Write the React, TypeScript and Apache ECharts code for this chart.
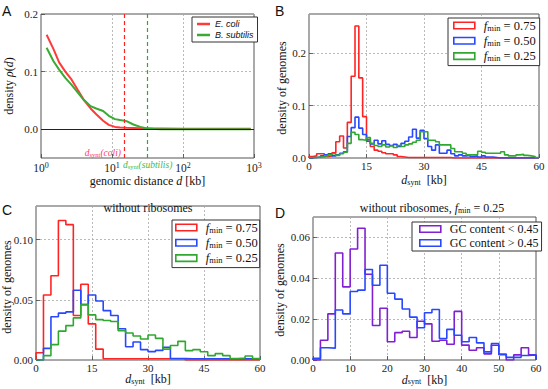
import React, { useEffect, useRef } from 'react';
import * as echarts from 'echarts';

const SERIF = "'Liberation Serif', 'DejaVu Serif', serif";
const SANS = "'Liberation Sans', 'DejaVu Sans', sans-serif";

const RED = '#ff2424';
const BLUE = '#2848ff';
const GREEN = '#30a830';
const PURPLE = '#8020d0';
const A_RED = '#ff3a3a';
const A_GREEN = '#3aaa32';

// ---------- Panel A: density rho(d) vs genomic distance d [kb] (log x)
const distA = [1.2, 1.5, 1.8, 2.2, 2.7, 3.3, 4, 5, 6, 7.5, 9, 11, 13, 16, 20, 25, 30, 40, 50, 100, 200, 500, 900];
const ecoliA = [0.164, 0.139, 0.116, 0.1, 0.086, 0.068, 0.051, 0.036, 0.026, 0.0146, 0.0075, 0.004, 0.003, 0.0025, 0.002, 0.0015, 0.001, 0.001, 0.001, 0.0008, 0.0008, 0.0008, 0.0008];
const bsubA = [0.1415, 0.118, 0.1035, 0.089, 0.077, 0.0637, 0.051, 0.04, 0.036, 0.0316, 0.0233, 0.0175, 0.0158, 0.014, 0.0082, 0.004, 0.0018, 0.0005, 0, 0, 0, 0, 0];
const dsyntColi = 14.7;
const dsyntSubtilis = 31.6;
const yTicksA = [0, 0.1, 0.2];

// ---------- Panel B: histograms, 1 kb bins from 0
const binB = 1;
const redB = [0.003, 0.004, 0.008, 0.008, 0.003, 0.004, 0.01, 0.031, 0.042, 0.019, 0.068, 0.156, 0.252, 0.153, 0.079, 0.035, 0.022, 0.015, 0.013, 0.01, 0.008, 0.008, 0.006, 0.003, 0.002,
  0.001, 0.001, 0.001, 0.001, 0.001, 0.001, 0.001, 0.001, 0.001, 0.001, 0.001, 0.001,
  0, 0, 0, 0, 0, 0, 0, 0, 0, 0, 0, 0, 0, 0, 0, 0, 0, 0, 0, 0, 0, 0, 0];
const blueB = [0, 0.001, 0.002, 0.004, 0.006, 0.008, 0.004, 0.006, 0.009, 0.012, 0.041, 0.058, 0.078, 0.057, 0.045, 0.032, 0.027, 0.034, 0.027, 0.033, 0.026, 0.024, 0.026, 0.022, 0.028, 0.032, 0.04, 0.055, 0.038, 0.053,
  0.037, 0.022, 0.015, 0.025, 0.009, 0.009, 0.015, 0.008, 0.004, 0.006, 0.004, 0.005, 0.003, 0.004, 0.002, 0.004, 0.002, 0.002, 0.001, 0, 0, 0, 0, 0, 0, 0, 0, 0, 0, 0];
const greenB = [0.001, 0.001, 0.002, 0.002, 0.004, 0.006, 0.008, 0.005, 0.008, 0.011, 0.028, 0.049, 0.045, 0.035, 0.034, 0.039, 0.028, 0.024, 0.022, 0.025, 0.021, 0.023, 0.02, 0.024, 0.022, 0.025, 0.027, 0.03, 0.034, 0.05,
  0.05, 0.034, 0.034, 0.031, 0.025, 0.025, 0.025, 0.018, 0.012, 0.012, 0.009, 0.006, 0.006, 0.006, 0.013, 0.011, 0.009, 0.009, 0.009, 0.009, 0.012, 0.006, 0.004, 0.004, 0.006, 0.007, 0.005, 0.004, 0.003, 0.001];

// ---------- Panel C: without ribosomes, 2 kb bins
const binC = 2;
const redC = [0.006, 0.054, 0.07, 0.116, 0.1125, 0.037, 0.063, 0.03, 0.009, 0.001, 0.001, 0.001, 0.001, 0.001, 0.001, 0.001, 0.001, 0.001, 0.001, 0.001, 0, 0, 0, 0, 0, 0, 0, 0, 0, 0];
const blueC = [0, 0.0097, 0.036, 0.039, 0.04, 0.058, 0.046, 0.054, 0.049, 0.041, 0.037, 0.026, 0.011, 0.015, 0.0086, 0.007, 0.008, 0.0106, 0.0013, 0.0013, 0.001, 0.001, 0.001, 0.001, 0.001, 0.001, 0.001, 0.001, 0.001, 0.001];
const greenC = [0, 0.0036, 0.0128, 0.024, 0.0286, 0.035, 0.046, 0.0375, 0.0336, 0.0328, 0.032, 0.0244, 0.0225, 0.02, 0.0175, 0.0208, 0.018, 0.009, 0.012, 0.0155, 0.0078, 0.0086, 0.0068, 0.0036, 0.0053, 0.0036, 0.0013, 0.0016, 0.0033, 0.0013];

// ---------- Panel D: without ribosomes, f_min = 0.25, 2 kb bins
const binD = 2;
const purpleD = [0, 0.0097, 0.0226, 0.0524, 0.0358, 0.0543, 0.0645, 0.042, 0.0169, 0.0253, 0.0089, 0.0134, 0.0141, 0.011, 0.019, 0.0177, 0.0092, 0.0097, 0.0077, 0.0238, 0.0073, 0.0048, 0.006, 0.003, 0.0072, 0.0026, 0, 0.0025, 0.006, 0.0025];
const blueD = [0.0008, 0.006, 0.0058, 0.0245, 0.0226, 0.0335, 0.0342, 0.0443, 0.0366, 0.0464, 0.0327, 0.0298, 0.025, 0.021, 0.0158, 0.0231, 0.0247, 0.0105, 0.015, 0.0121, 0.0089, 0.011, 0.0084, 0.004, 0.0081, 0.0029, 0.0013, 0.0013, 0.0022, 0.0025];

const fNames = ['f_min = 0.75', 'f_min = 0.50', 'f_min = 0.25'];
const gcNames = ['GC content < 0.45', 'GC content > 0.45'];
const speciesNames = ['E. coli', 'B. subtilis'];

function steps(vals: number[], w: number): number[][] {
  const pts: number[][] = [[0, 0]];
  vals.forEach((v, i) => pts.push([i * w, v]));
  pts.push([vals.length * w, vals[vals.length - 1]]);
  pts.push([vals.length * w, 0]);
  return pts;
}

function hist(name: string, vals: number[], w: number, color: string, idx: number) {
  return {
    type: 'line', name, xAxisIndex: idx, yAxisIndex: idx, data: steps(vals, w), step: 'end',
    symbol: 'none', lineStyle: { color, width: 1.6 }, itemStyle: { color }, z: 3,
  };
}

const gridLine = { show: true, lineStyle: { color: '#a8a8a8', type: [2, 2], width: 0.8 } };
const tickStyle = { show: true, inside: true, length: 4, lineStyle: { color: '#444', width: 0.8 } };
const labelBase = { fontFamily: SERIF, fontSize: 11, color: '#222' };

function valX(idx: number, interval: number) {
  return {
    type: 'value', gridIndex: idx, min: 0, max: 60, interval,
    axisLine: { show: false, onZero: false }, axisTick: tickStyle, splitLine: gridLine,
    axisLabel: { ...labelBase, margin: 2 },
  };
}
function valY(idx: number, min: number, max: number, ticks: number[], digits: number) {
  return {
    type: 'value', gridIndex: idx, min, max,
    axisLine: { show: false, onZero: false },
    axisTick: { ...tickStyle, customValues: ticks },
    splitLine: gridLine,
    axisLabel: { ...labelBase, margin: 3, customValues: ticks, formatter: (v: number) => v.toFixed(digits) },
  };
}

const LFS = 12.5;
const legRich = {
  i: { fontFamily: SERIF, fontStyle: 'italic', fontSize: LFS, lineHeight: 13, color: '#111', padding: [0, 0, 0, 4] },
  s: { fontFamily: SERIF, fontSize: 8.5, lineHeight: 8, verticalAlign: 'bottom', color: '#111' },
  n: { fontFamily: SERIF, fontSize: LFS, lineHeight: 13, color: '#111' },
};
function fLegend(left: number, top: number, padding: number[]) {
  return {
    left, top, orient: 'vertical', padding, itemGap: 2.3, itemWidth: 21, itemHeight: 6.5,
    borderColor: '#333', borderWidth: 1, backgroundColor: '#fff',
    data: fNames.map((n, k) => ({ name: n, icon: 'rect', itemStyle: { color: 'rgba(255,255,255,0)', borderColor: [RED, BLUE, GREEN][k], borderWidth: 1.6 } })),
    formatter: (name: string) => `{i|f}{s|min}{n| = ${name.split('= ')[1]}}`,
    textStyle: { fontFamily: SERIF, fontSize: LFS, color: '#111', rich: legRich },
  };
}

function gText(x: number, y: number, text: string, rich: any, extra: any = {}) {
  return {
    type: 'text', x, y, ...extra,
    style: { text, rich, align: 'center', verticalAlign: 'middle', textAlign: 'center', textVerticalAlign: 'middle', ...(extra.style || {}) },
  };
}

const nameRich = {
  n: { fontFamily: SERIF, fontSize: 12, lineHeight: 12, fill: '#111' },
  i: { fontFamily: SERIF, fontStyle: 'italic', fontSize: 12, lineHeight: 12, fill: '#111' },
  s: { fontFamily: SERIF, fontSize: 8, lineHeight: 8, verticalAlign: 'bottom', fill: '#111' },
};
const dsyntName = '{i|d}{s|synt}{n|  [kb]}';
const densName = '{n|density of genomes}';

export default function App() {
  const ref = useRef<HTMLDivElement>(null);
  useEffect(() => {
    if (!ref.current) return;
    const chart = echarts.init(ref.current, undefined, { renderer: 'svg' });
    const gridStyle = { show: true, borderColor: '#555', borderWidth: 1, backgroundColor: 'transparent' };
    const annRed = '#ff3b6b';
    const annGreen = '#44bb44';
    const option: any = {
      animation: false,
      grid: [
        { left: 41, top: 14, width: 213, height: 144, ...gridStyle },
        { left: 309, top: 14, width: 230, height: 144, ...gridStyle },
        { left: 36, top: 206, width: 224, height: 154, ...gridStyle },
        { left: 313, top: 217, width: 223, height: 143, ...gridStyle },
      ],
      xAxis: [
        {
          type: 'log', logBase: 10, gridIndex: 0, min: 1, max: 1000,
          axisLine: { show: false, onZero: false }, axisTick: tickStyle, splitLine: gridLine,
          axisLabel: {
            margin: 3,
            formatter: (v: number) => `{b|10}{s|${Math.round(Math.log10(v))}}`,
            rich: {
              b: { fontFamily: SERIF, fontSize: 11.5, lineHeight: 11, color: '#222', padding: [3, 0, 0, 0] },
              s: { fontFamily: SERIF, fontSize: 8, lineHeight: 8, verticalAlign: 'top', color: '#222' },
            },
          },
        },
        valX(1, 15), valX(2, 15), valX(3, 10),
      ],
      yAxis: [
        valY(0, -0.05, 0.2, yTicksA, 1),
        valY(1, 0, 0.275, [0, 0.1, 0.2], 1),
        valY(2, 0, 0.128, [0, 0.05, 0.1], 2),
        valY(3, 0, 0.07, [0, 0.02, 0.04, 0.06], 2),
      ],
      legend: [
        {
          left: 192, top: 17, orient: 'vertical', padding: [2, 4, 2, 5], itemGap: 1, itemWidth: 13, itemHeight: 2.5,
          borderColor: '#333', borderWidth: 1, backgroundColor: '#fff',
          data: speciesNames.map((n) => ({ name: n, icon: 'rect' })),
          textStyle: { fontFamily: SANS, fontStyle: 'italic', fontSize: 9, color: '#111', lineHeight: 10 },
        },
        fLegend(448, 18, [1, 4, 3, 5]),
        fLegend(172, 220, [1, 2, 3, 3]),
        {
          left: 412, top: 222, orient: 'vertical', padding: [1, 3, 2, 7], itemGap: 2, itemWidth: 21, itemHeight: 6.5,
          borderColor: '#333', borderWidth: 1, backgroundColor: '#fff',
          data: gcNames.map((n, k) => ({ name: n, icon: 'rect', itemStyle: { color: 'rgba(255,255,255,0)', borderColor: [PURPLE, BLUE][k], borderWidth: 1.6 } })),
          formatter: (name: string) => `{n|${name}}`,
          textStyle: { fontFamily: SERIF, fontSize: 12, color: '#111', rich: { n: { fontFamily: SERIF, fontSize: 12, lineHeight: 13, color: '#111', padding: [0, 0, 0, 4] } } },
        },
      ],
      series: [
        {
          type: 'line', name: speciesNames[0], xAxisIndex: 0, yAxisIndex: 0, symbol: 'none',
          data: distA.map((d, i) => [d, ecoliA[i]]), lineStyle: { color: A_RED, width: 2 }, itemStyle: { color: A_RED }, z: 3,
          markLine: {
            silent: true, symbol: 'none', label: { show: false },
            data: [
              { xAxis: dsyntColi, lineStyle: { color: RED, type: [4, 3], width: 1.2 } },
              { xAxis: dsyntSubtilis, lineStyle: { color: '#2eaa2e', type: [4, 3], width: 1.2 } },
              { yAxis: 0, lineStyle: { color: '#222', type: 'solid', width: 1 } },
            ],
          },
        },
        {
          type: 'line', name: speciesNames[1], xAxisIndex: 0, yAxisIndex: 0, symbol: 'none',
          data: distA.map((d, i) => [d, bsubA[i]]), lineStyle: { color: A_GREEN, width: 2 }, itemStyle: { color: A_GREEN }, z: 3,
        },
        hist(fNames[0], redB, binB, RED, 1),
        hist(fNames[1], blueB, binB, BLUE, 1),
        hist(fNames[2], greenB, binB, GREEN, 1),
        hist(fNames[0], redC, binC, RED, 2),
        hist(fNames[1], blueC, binC, BLUE, 2),
        hist(fNames[2], greenC, binC, GREEN, 2),
        hist(gcNames[0], purpleD, binD, PURPLE, 3),
        hist(gcNames[1], blueD, binD, BLUE, 3),
      ],
      graphic: [
        { type: 'text', x: 2, y: 4, style: { text: 'A', fontFamily: SANS, fontSize: 14, fill: '#111' } },
        { type: 'text', x: 275, y: 4, style: { text: 'B', fontFamily: SANS, fontSize: 14, fill: '#111' } },
        { type: 'text', x: 2, y: 203, style: { text: 'C', fontFamily: SANS, fontSize: 14, fill: '#111' } },
        { type: 'text', x: 275, y: 206, style: { text: 'D', fontFamily: SANS, fontSize: 14, fill: '#111' } },
        gText(148, 208, '{n|without ribosomes}', nameRich),
        gText(432, 208, '{n|without ribosomes, }{i|f}{s|min}{n| = 0.25}', nameRich),
        gText(147.5, 180.5, '{n|genomic distance }{i|d}{n| [kb]}', nameRich),
        gText(8.5, 86, '{n|density }{i|ρ}{n|(}{i|d}{n|)}', nameRich, { rotation: Math.PI / 2 }),
        gText(424, 180, dsyntName, nameRich),
        gText(281.5, 88, densName, nameRich, { rotation: Math.PI / 2 }),
        gText(148, 379, dsyntName, nameRich),
        gText(6.5, 287, densName, nameRich, { rotation: Math.PI / 2 }),
        gText(424.5, 379.5, dsyntName, nameRich),
        gText(280, 290, densName, nameRich, { rotation: Math.PI / 2 }),
        {
          type: 'text', x: 121, y: 152.5,
          style: {
            text: '{i|d}{s|synt}{i|(coli)}', align: 'right', verticalAlign: 'middle', textAlign: 'right', textVerticalAlign: 'middle',
            rich: {
              i: { fontFamily: SERIF, fontStyle: 'italic', fontSize: 9.5, lineHeight: 11, fill: annRed },
              s: { fontFamily: SERIF, fontSize: 6.5, lineHeight: 6, verticalAlign: 'bottom', fill: annRed },
            },
          },
        },
        {
          type: 'text', x: 123, y: 164.5,
          style: {
            text: '{i|d}{s|synt}{i|(subtilis)}', align: 'left', verticalAlign: 'middle', textAlign: 'left', textVerticalAlign: 'middle',
            rich: {
              i: { fontFamily: SERIF, fontStyle: 'italic', fontSize: 9.5, lineHeight: 11, fill: annGreen },
              s: { fontFamily: SERIF, fontSize: 6.5, lineHeight: 6, verticalAlign: 'bottom', fill: annGreen },
            },
          },
        },
      ],
    };
    chart.setOption(option);
    return () => chart.dispose();
  }, []);
  return <div ref={ref} style={{ position: 'absolute', left: 0, top: 0, width: 548, height: 389, background: '#fff' }} />;
}
